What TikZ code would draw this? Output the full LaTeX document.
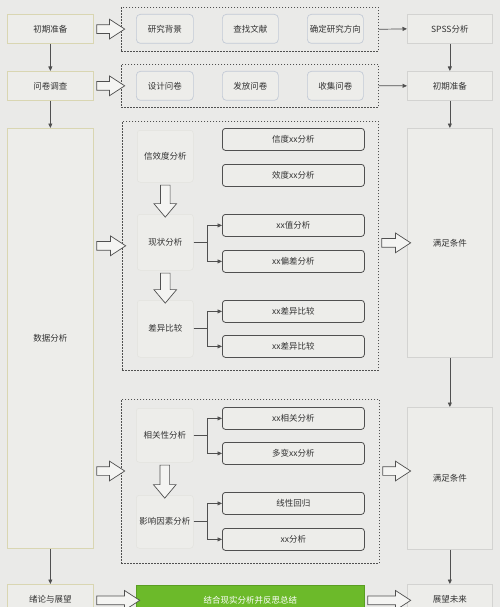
\documentclass[tikz,border=0pt]{standalone}
\usepackage{fontspec}
\setmainfont{Noto Sans CJK SC}
\usetikzlibrary{shapes.arrows,arrows.meta}
\definecolor{bgc}{HTML}{EAEAE8}
\definecolor{boxc}{HTML}{EDEDEA}
\definecolor{khaki}{HTML}{D9D6B2}
\definecolor{bluec}{HTML}{C3CAD6}
\definecolor{greyc}{HTML}{D3D3D1}
\definecolor{faintc}{HTML}{E2E2DE}
\definecolor{darkc}{HTML}{505050}
\definecolor{txtc}{HTML}{333333}
\definecolor{greenc}{HTML}{6CBA2A}
\definecolor{greenb}{HTML}{5A9E22}

\begin{document}
\begin{tikzpicture}[x=1pt,y=-1pt,
    every node/.style={font=\fontsize{8.5}{10}\selectfont,text=txtc,inner sep=0pt},
    nw/.style={anchor=north west},
    lbox/.style={nw,draw=khaki,fill=boxc,line width=0.7pt},
    rbox/.style={nw,draw=greyc,fill=boxc,line width=0.7pt},
    sub/.style={nw,draw=bluec,fill=boxc,line width=0.7pt,rounded corners=4pt,
        minimum height=29pt},
    head/.style={nw,draw=faintc,fill=boxc,line width=0.5pt,rounded corners=3pt,
        minimum width=56pt},
    item/.style={nw,draw=darkc,fill=boxc,line width=0.8pt,rounded corners=3pt,
        minimum width=142pt,minimum height=22pt},
    grp/.style={nw,draw=darkc,line width=0.6pt,dash pattern=on 1.5pt off 1.5pt},
    line/.style={draw=darkc,line width=0.7pt,-{Triangle[length=4.5pt,width=4pt]}},
    fat/.style={single arrow,draw=darkc,fill=boxc!60!white,line width=0.7pt,
        inner xsep=0pt,inner ysep=4pt,single arrow head extend=5.5pt,
        single arrow tip angle=66,single arrow head indent=0pt},
    fatd/.style={fat,rotate=-90,inner ysep=4.5pt,single arrow head extend=6.5pt,
        single arrow tip angle=80}]
    \useasboundingbox (0,0) rectangle (500,607);
    \fill[bgc] (0,0) rectangle (500,607);
    % left column
    \node[lbox,minimum width=86pt,minimum height=29pt] (init) at (7,14) {初期准备};
    \node[lbox,minimum width=86pt,minimum height=29pt] (survey) at (7,71) {问卷调查};
    \node[lbox,minimum width=86pt,minimum height=420pt] (data) at (7,128) {数据分析};
    \node[lbox,minimum width=86pt,minimum height=30pt] (concl) at (7,584) {绪论与展望};
    % right column
    \node[rbox,minimum width=85pt,minimum height=29pt] (spss) at (407,14) {SPSS分析};
    \node[rbox,minimum width=85pt,minimum height=29pt] (prep) at (407,71) {初期准备};
    \node[rbox,minimum width=85pt,minimum height=229pt] (cond1) at (407,128) {满足条件};
    \node[rbox,minimum width=85pt,minimum height=142pt] (cond2) at (407,407) {满足条件};
    \node[rbox,minimum width=85pt,minimum height=30pt] (future) at (407,584) {展望未来};
    % groups
    \node[grp,minimum width=257pt,minimum height=44pt] (g1) at (121,7) {};
    \node[grp,minimum width=257pt,minimum height=43pt] (g2) at (121,64) {};
    \node[grp,minimum width=256pt,minimum height=249pt] (g3) at (122,121) {};
    \node[grp,minimum width=258pt,minimum height=164pt] (g4) at (121,399) {};
    \node[sub,minimum width=57pt] (bg) at (136,14) {研究背景};
    \node[sub,minimum width=56pt] (lit) at (222,14) {查找文献};
    \node[sub,minimum width=56pt] (dir) at (307,14) {确定研究方向};
    \node[sub,minimum width=57pt] (design) at (136,71) {设计问卷};
    \node[sub,minimum width=56pt] (issue) at (222,71) {发放问卷};
    \node[sub,minimum width=56pt] (collect) at (307,71) {收集问卷};
    \node[head,minimum height=52pt] (rel) at (137,130) {信效度分析};
    \node[head,minimum height=56pt] (state) at (137,214) {现状分析};
    \node[head,minimum height=57pt] (diff) at (137,300) {差异比较};
    \node[item] (rel1) at (222,128) {信度xx分析};
    \node[item] (rel2) at (222,164) {效度xx分析};
    \node[item] (state1) at (222,214) {xx值分析};
    \node[item] (state2) at (222,250) {xx偏差分析};
    \node[item] (diff1) at (222,300) {xx差异比较};
    \node[item] (diff2) at (222,335) {xx差异比较};
    \node[head,minimum width=57pt,minimum height=54pt] (corr) at (136,408) {相关性分析};
    \node[head,minimum width=57pt,minimum height=53pt] (infl) at (136,495) {影响因素分析};
    \node[item] (corr1) at (222,407) {xx相关分析};
    \node[item] (corr2) at (222,442) {多变xx分析};
    \node[item] (infl1) at (222,492) {线性回归};
    \node[item] (infl2) at (222,528) {xx分析};
    \node[nw,draw=greenb,fill=greenc,line width=0.7pt,minimum width=228pt,
        minimum height=30pt,text=white] (sum) at (136,585) {结合现实分析并反思总结};
    \coordinate (g4in) at (121,471);
    % thin arrows
    \draw[line] (init) -- (survey);
    \draw[line] (survey) -- (data);
    \draw[line] (data) -- (concl);
    \draw[line] (spss) -- (prep);
    \draw[line] (prep) -- (cond1);
    \draw[line] (cond1) -- (cond2);
    \draw[line] (cond2) -- (future);
    \draw[line] (g1.east) -- (spss.west);
    \draw[line] (g2.east) -- (prep.west);
    \draw[line] (state.east) -- ++(14pt,0) |- (state1.west);
    \draw[line] (state.east) -- ++(14pt,0) |- (state2.west);
    \draw[line] (diff.east) -- ++(14pt,0) |- (diff1.west);
    \draw[line] (diff.east) -- ++(14pt,0) |- (diff2.west);
    \draw[line] (corr.east) -- ++(14pt,0) |- (corr1.west);
    \draw[line] (corr.east) -- ++(14pt,0) |- (corr2.west);
    \draw[line] (infl.east) -- ++(14pt,0) |- (infl1.west);
    \draw[line] (infl.east) -- ++(14pt,0) |- (infl2.west);
    % hollow arrows
    \path (init.east) -- node[fat,minimum height=28pt] {} (g1.west);
    \path (survey.east) -- node[fat,minimum height=28pt] {} (g2.west);
    \path (data.east |- g3.west) -- node[fat,minimum height=29pt] {} (g3.west);
    \path (data.east |- g4in) -- node[fat,minimum height=28pt] {} (g4in);
    \path (g3.east |- cond1.west) -- node[fat,minimum height=29pt] {} (cond1.west);
    \path (g4.east |- g4in) -- node[fat,minimum height=28pt] {} (cond2.west |- g4in);
    \path (concl.east |- sum.west) -- node[fat,minimum height=43pt] {} (sum.west);
    \path (sum.east) -- node[fat,minimum height=43pt] {} (future.west |- sum.east);
    \path (rel.south) -- node[fatd,minimum height=32pt] {} (state.north);
    \path (state.south) -- node[fatd,minimum height=30pt] {} (diff.north);
    \path (corr.south) -- node[fatd,minimum height=33pt] {} (infl.north);
\end{tikzpicture}
\end{document}
